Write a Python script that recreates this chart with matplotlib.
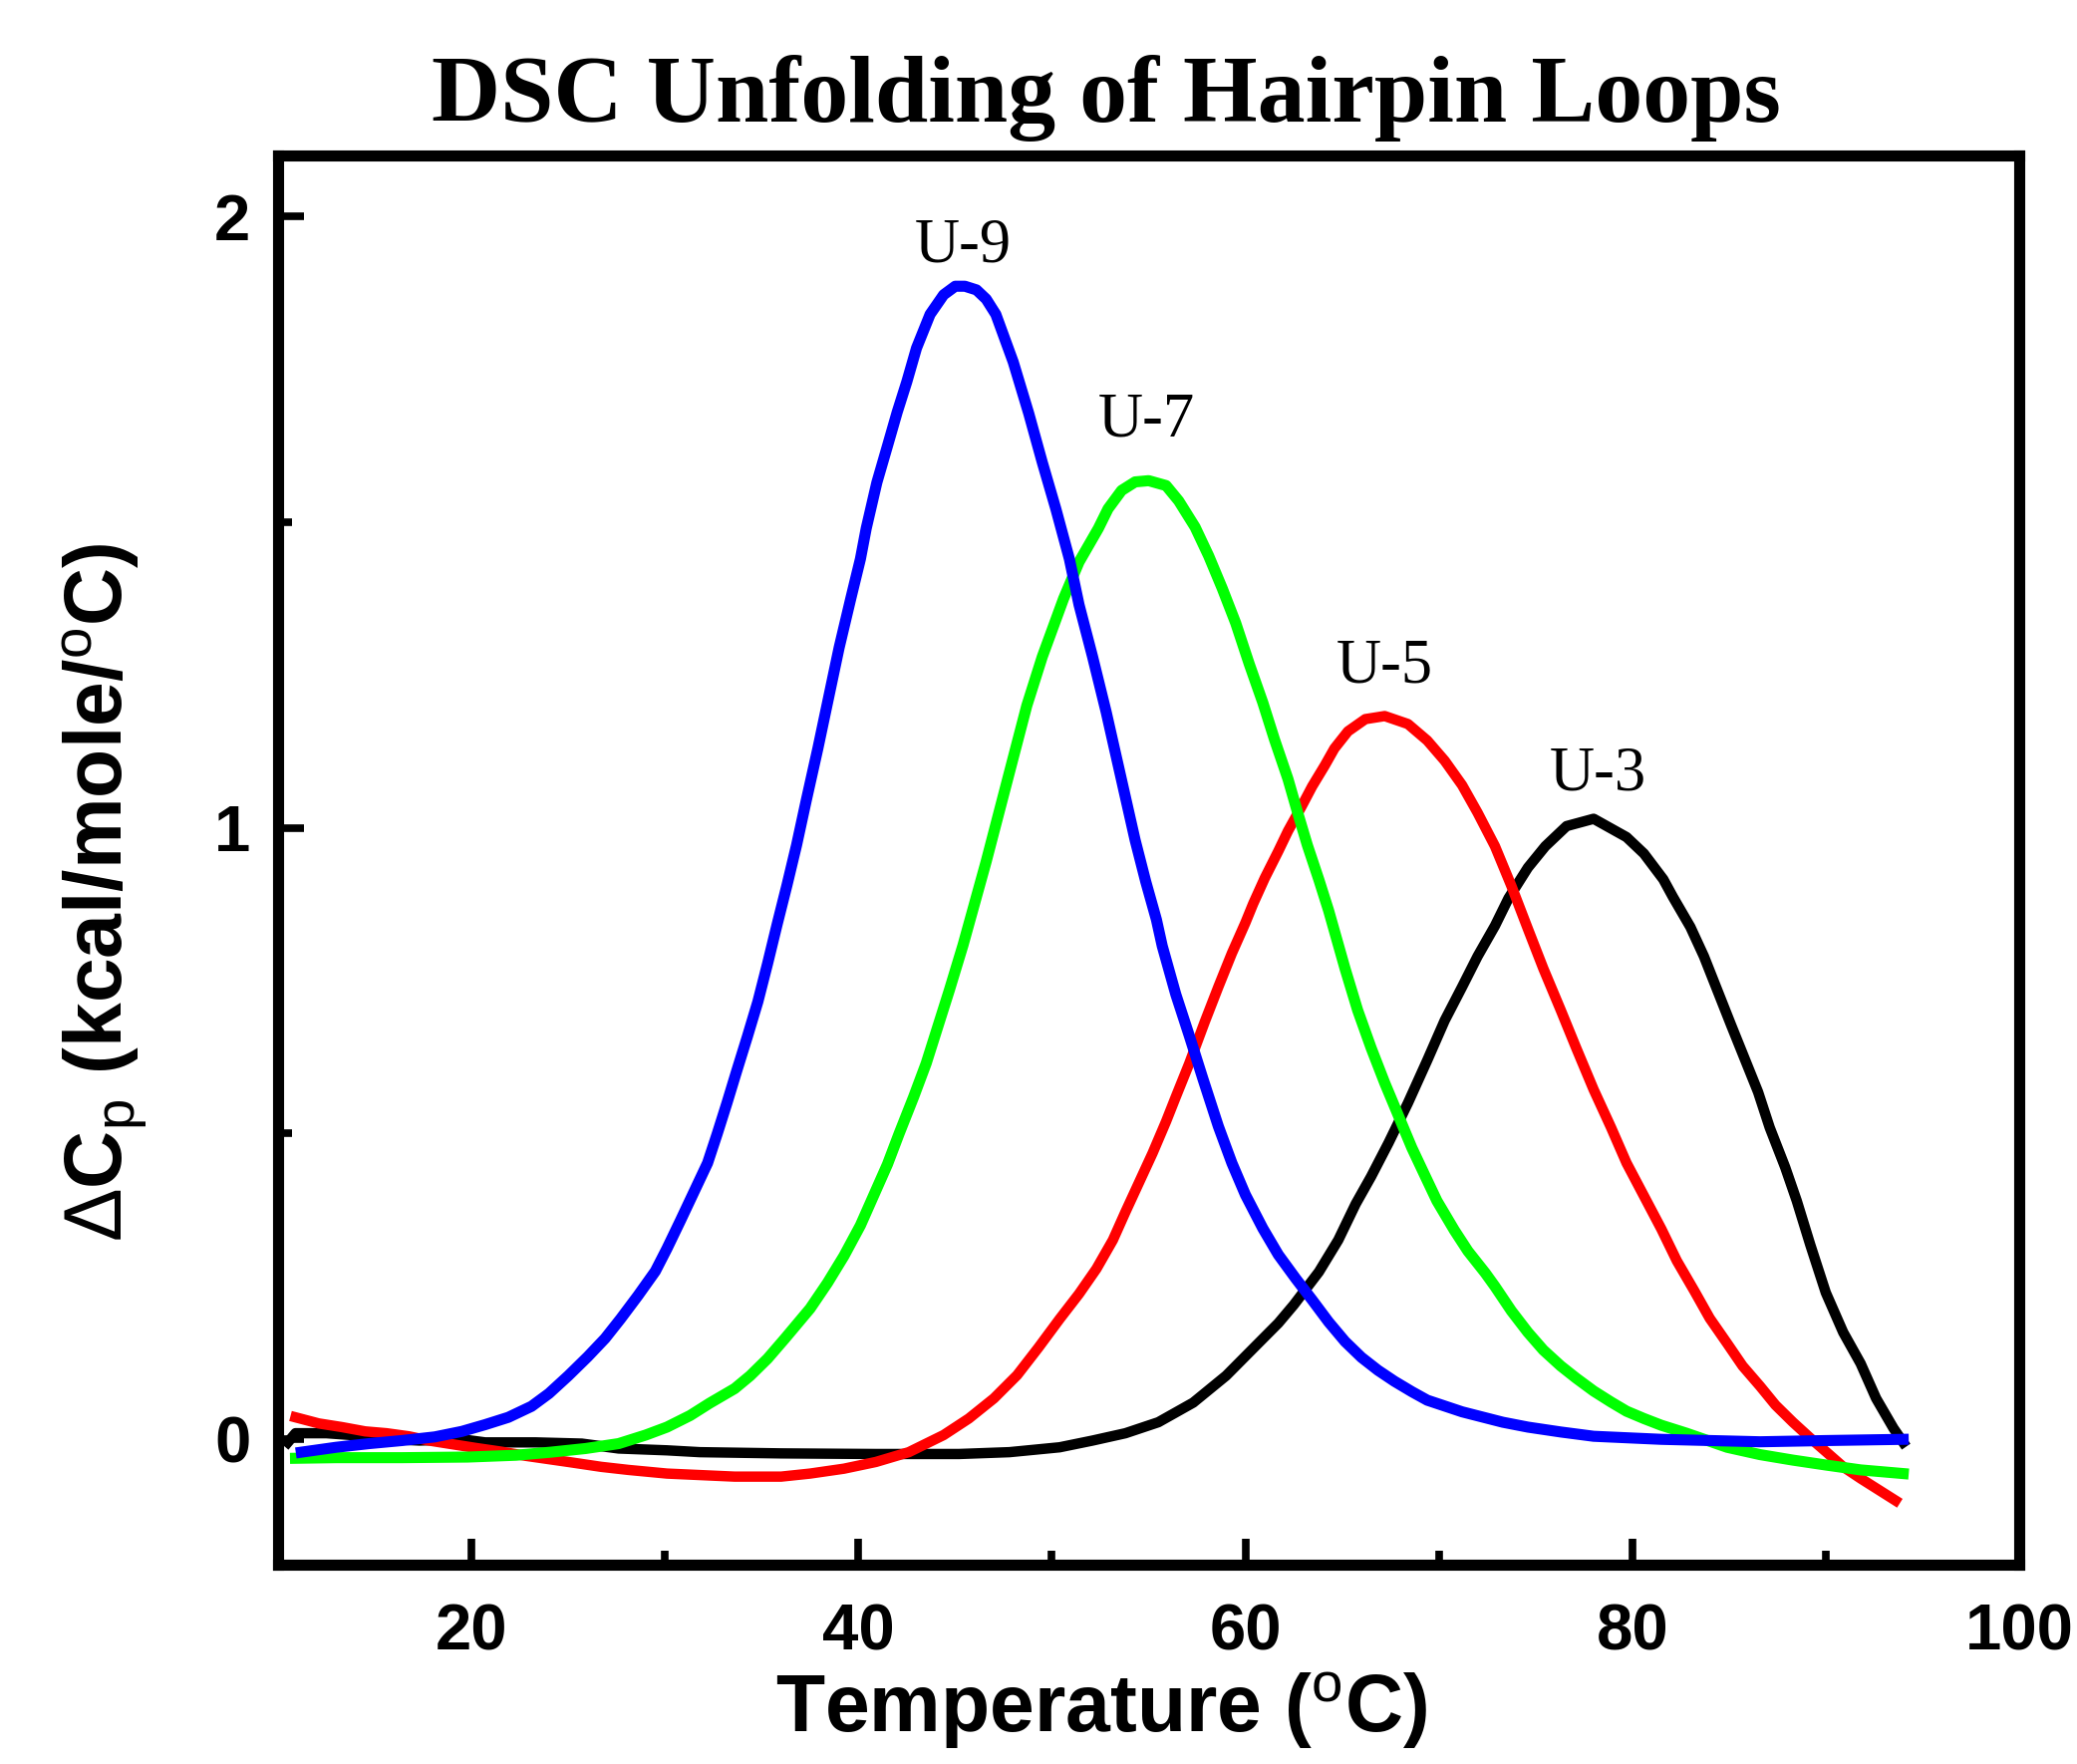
import numpy as np
import matplotlib.pyplot as plt
from matplotlib.ticker import MultipleLocator

# U-3 (black)
t_u3 = [10.5, 10.9, 12.5, 13.8, 14.7, 17.3, 19.5, 20.7, 23.3, 25.7, 27.6, 30.1, 31.8,
        36.0, 40.9, 45.2, 47.8, 50.4, 52.1, 53.8, 55.5, 57.3, 59.0, 60.6, 61.7, 62.5,
        63.8, 64.8, 65.7, 66.5, 67.4, 68.4, 69.4, 70.3, 71.2, 72.0, 72.9, 73.6, 74.6,
        75.5, 76.6, 78.0, 79.7, 80.6, 81.6, 82.1, 83.0, 83.7, 84.4, 85.1, 85.8, 86.5,
        87.1, 87.9, 88.5, 89.2, 90.0, 90.9, 91.8, 92.6, 93.5, 94.0]
cp_u3 = [-0.005, 0.01, 0.01, 0.007, 0.002, -0.002, 0.0, -0.005, -0.005, -0.007, -0.015,
         -0.018, -0.021, -0.023, -0.024, -0.024, -0.021, -0.013, -0.002, 0.01, 0.028,
         0.06, 0.104, 0.155, 0.19, 0.22, 0.274, 0.326, 0.385, 0.43, 0.485, 0.55, 0.62,
         0.685, 0.74, 0.79, 0.84, 0.885, 0.935, 0.97, 1.003, 1.015, 0.985, 0.958, 0.916,
         0.887, 0.838, 0.79, 0.734, 0.678, 0.623, 0.568, 0.51, 0.445, 0.39, 0.318,
         0.24, 0.175, 0.124, 0.067, 0.018, -0.005]

# U-5 (red)
t_u5 = [10.9, 12.1, 13.3, 14.5, 15.6, 16.75, 17.8, 19.0, 20.2, 21.5, 22.8, 25.0, 26.7,
        28.1, 30.1, 33.6, 36.0, 37.5, 39.25, 40.9, 42.6, 44.4, 45.7, 47.0, 48.2, 49.3,
        50.4, 51.4, 52.3, 53.15, 53.8, 54.5, 55.2, 55.9, 56.4, 57.1, 57.9, 58.6, 59.3,
        60.0, 60.4, 61.0, 61.7, 62.2, 62.9, 63.45, 64.1, 64.6, 65.3, 66.2, 67.2, 68.4,
        69.4, 70.3, 71.2, 72.0, 72.9, 73.75, 74.6, 75.4, 76.3, 77.1, 78.0, 78.9, 79.7,
        80.6, 81.5, 82.3, 83.2, 84.0, 84.9, 85.7, 86.6, 87.4, 88.3, 89.2, 90.0, 90.9,
        91.8, 92.6, 93.6]
cp_u5 = [0.036, 0.026, 0.02, 0.013, 0.01, 0.005, -0.002, -0.008, -0.014, -0.02, -0.027,
         -0.037, -0.045, -0.05, -0.056, -0.061, -0.061, -0.056, -0.048, -0.037, -0.021,
         0.007, 0.034, 0.067, 0.105, 0.15, 0.197, 0.238, 0.279, 0.326, 0.372, 0.42, 0.468,
         0.52, 0.56, 0.615, 0.683, 0.74, 0.795, 0.845, 0.876, 0.918, 0.962, 0.995, 1.035,
         1.068, 1.102, 1.13, 1.158, 1.178, 1.183, 1.17, 1.143, 1.11, 1.07, 1.025, 0.97,
         0.905, 0.835, 0.77, 0.702, 0.64, 0.572, 0.51, 0.452, 0.398, 0.344, 0.292, 0.243,
         0.198, 0.157, 0.12, 0.087, 0.056, 0.028, 0.002, -0.02, -0.045, -0.064, -0.08, -0.1]

# U-7 (green)
t_u7 = [10.9, 13.0, 16.4, 19.8, 22.3, 24.1, 25.9, 27.6, 29.0, 30.1, 31.3, 32.3, 33.6,
        34.4, 35.3, 36.2, 37.5, 38.4, 39.25, 40.1, 40.8, 41.5, 42.1, 42.85, 43.5, 44.0,
        44.7, 45.4, 45.9, 46.6, 47.3, 48.0, 48.7, 49.5, 50.6, 51.4, 52.4, 52.9, 53.6,
        54.3, 55.0, 55.9, 56.55, 57.4, 58.1, 58.8, 59.5, 60.2, 60.9, 61.5, 62.2, 62.7,
        63.2, 63.8, 64.3, 65.15, 65.8, 66.5, 67.2, 67.9, 68.6, 69.3, 69.9, 70.8, 71.5,
        72.4, 72.9, 73.75, 74.6, 75.4, 76.3, 77.1, 78.0, 78.9, 79.7, 80.6, 81.5, 82.8,
        84.9, 86.6, 88.3, 90.0, 91.8, 94.0]
cp_u7 = [-0.031, -0.03, -0.03, -0.029, -0.026, -0.021, -0.015, -0.007, 0.007, 0.02, 0.039,
         0.059, 0.083, 0.104, 0.132, 0.165, 0.214, 0.256, 0.3, 0.35, 0.4, 0.45, 0.5,
         0.56, 0.615, 0.665, 0.735, 0.808, 0.865, 0.945, 1.03, 1.115, 1.2, 1.28, 1.375,
         1.435, 1.49, 1.522, 1.552, 1.566, 1.568, 1.56, 1.535, 1.492, 1.445, 1.392, 1.335,
         1.268, 1.205, 1.145, 1.08, 1.025, 0.972, 0.915, 0.865, 0.77, 0.702, 0.64, 0.583,
         0.53, 0.477, 0.43, 0.39, 0.342, 0.308, 0.272, 0.25, 0.21, 0.175, 0.146, 0.12,
         0.1, 0.079, 0.061, 0.046, 0.034, 0.023, 0.01, -0.013, -0.025, -0.034, -0.042,
         -0.05, -0.056]

# U-9 (blue)
t_u9 = [11.2, 13.0, 14.7, 16.4, 18.1, 19.5, 20.7, 21.9, 23.1, 24.0, 25.0, 26.0, 26.9,
        27.7, 28.6, 29.5, 30.1, 30.8, 31.5, 32.2, 32.7, 33.2, 33.7, 34.25, 34.8, 35.3,
        35.8, 36.3, 36.8, 37.3, 37.9, 38.4, 39.0, 39.6, 40.1, 40.4, 40.95, 41.5, 42.0,
        42.5, 43.0, 43.7, 44.4, 45.0, 45.5, 46.1, 46.6, 47.1, 48.0, 48.8, 49.5, 50.2,
        50.9, 51.4, 52.1, 52.8, 53.3, 53.8, 54.3, 54.85, 55.4, 55.7, 56.4, 57.1, 57.8,
        58.6, 59.3, 60.0, 60.9, 61.7, 62.6, 63.45, 64.3, 65.15, 66.0, 66.85, 67.7, 68.6,
        69.4, 71.2, 73.3, 74.6, 76.3, 78.0, 81.5, 86.6, 90.0, 94.0]
cp_u9 = [-0.021, -0.013, -0.007, -0.002, 0.004, 0.013, 0.024, 0.036, 0.054, 0.075, 0.104,
         0.135, 0.165, 0.197, 0.235, 0.275, 0.312, 0.358, 0.405, 0.452, 0.5, 0.55,
         0.602, 0.658, 0.716, 0.778, 0.843, 0.906, 0.972, 1.045, 1.13, 1.205, 1.295, 1.375,
         1.44, 1.49, 1.565, 1.625, 1.68, 1.73, 1.785, 1.84, 1.872, 1.886, 1.886, 1.88,
         1.865, 1.84, 1.762, 1.678, 1.598, 1.522, 1.44, 1.365, 1.28, 1.19, 1.12, 1.05,
         0.98, 0.912, 0.85, 0.807, 0.728, 0.66, 0.59, 0.512, 0.452, 0.4, 0.345, 0.302,
         0.263, 0.228, 0.192, 0.16, 0.134, 0.113, 0.095, 0.078, 0.064, 0.045, 0.028, 0.02,
         0.012, 0.005, 0.0, -0.004, -0.002, 0.0]

labels = ['U-3', 'U-5', 'U-7', 'U-9']
label_x = [78.2, 67.2, 54.9, 45.4]
label_y = [1.062, 1.238, 1.641, 1.927]

plt.rcParams['mathtext.fontset'] = 'custom'
plt.rcParams['mathtext.rm'] = 'Liberation Sans'
plt.rcParams['mathtext.it'] = 'Liberation Sans:italic'

fig = plt.figure(figsize=(20.84, 17.70), dpi=100)
ax = fig.add_axes([0.1339, 0.1130, 0.8383, 0.7989])

ax.plot(t_u3, cp_u3, color='black', lw=7.5, solid_joinstyle='round')
ax.plot(t_u5, cp_u5, color='#ff0000', lw=7.5, solid_joinstyle='round')
ax.plot(t_u7, cp_u7, color='#00ff00', lw=8, solid_joinstyle='round')
ax.plot(t_u9, cp_u9, color='#0000ff', lw=8, solid_joinstyle='round')

for lab, x, y in zip(labels, label_x, label_y):
    ax.text(x, y, lab, fontsize=45, family='Liberation Serif',
            ha='center', va='baseline')

ax.set_xlim(10, 100)
ax.set_ylim(-0.205, 2.1)
ax.set_xticks([20, 40, 60, 80, 100])
ax.xaxis.set_minor_locator(MultipleLocator(10))
ax.yaxis.set_major_locator(MultipleLocator(1))
ax.yaxis.set_minor_locator(MultipleLocator(0.5))

ax.tick_params(which='major', direction='in', length=19, width=5.5)
ax.tick_params(which='minor', direction='in', length=10, width=5.5)
ax.tick_params(axis='x', which='major', pad=28)
ax.tick_params(axis='y', which='major', pad=20)
for lab in ax.get_xticklabels() + ax.get_yticklabels():
    lab.set_fontsize(47)
    lab.set_fontweight('bold')
    lab.set_family('Liberation Sans')

for sp in ax.spines.values():
    sp.set_linewidth(8)

ax.set_xlabel('Temperature ($^\\mathrm{o}$C)', fontsize=58, fontweight='bold',
              family='Liberation Sans')
ax.xaxis.set_label_coords(0.473, -0.074)
ax.set_ylabel('$\\Delta$C$_\\mathrm{p}$ (kcal/mole/$^\\mathrm{o}$C)', fontsize=58,
              fontweight='bold', family='Liberation Sans')
ax.yaxis.set_label_coords(-0.074, 0.477)

fig.text(0.5326, 0.931, 'DSC Unfolding of Hairpin Loops', fontsize=69,
         fontweight='bold', family='Liberation Serif', ha='center', va='baseline')

fig.savefig('out.png', dpi=100)
